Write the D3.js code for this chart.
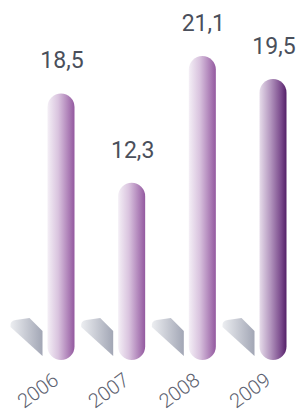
<!DOCTYPE html>
<html>
<head>
<meta charset="utf-8">
<script src="https://cdn.jsdelivr.net/npm/d3@7"></script>
<style>
html,body{margin:0;padding:0;background:#fff;}
svg{display:block;}
</style>
</head>
<body>
<svg id="chart" width="296" height="414"></svg>
<script>
const years = ["2006", "2007", "2008", "2009"];
const values = [18.5, 12.3, 21.1, 19.5];

const svg = d3.select("#chart");
const fmt = d3.formatLocale({decimal: ",", thousands: ".", grouping: [3], currency: ["", ""]}).format(".1f");

const x = d3.scalePoint().domain(years).range([61, 273]);
const y = d3.scaleLinear().domain([0, 21.1]).range([360, 56]);
const barW = 27;

const defs = svg.append("defs");
const gradSpecs = [
  ["#f4eff6", "#d9c3de", "#ab7cb5", "#93599f"],
  ["#f4eff6", "#d9c3de", "#ab7cb5", "#93599f"],
  ["#f4eff6", "#d9c3de", "#ab7cb5", "#93599f"],
  ["#e6dcea", "#b497bf", "#7a4a8c", "#542068"]
];
gradSpecs.forEach((c, i) => {
  const g = defs.append("linearGradient").attr("id", "bar" + i)
    .attr("x1", "0%").attr("x2", "100%").attr("y1", "0%").attr("y2", "0%");
  g.append("stop").attr("offset", "0%").attr("stop-color", c[0]);
  g.append("stop").attr("offset", "40%").attr("stop-color", c[1]);
  g.append("stop").attr("offset", "80%").attr("stop-color", c[2]);
  g.append("stop").attr("offset", "100%").attr("stop-color", c[3]);
});
const sg = defs.append("linearGradient").attr("id", "shadow")
  .attr("x1", "0%").attr("x2", "100%").attr("y1", "0%").attr("y2", "0%");
sg.append("stop").attr("offset", "0%").attr("stop-color", "#eceef1");
sg.append("stop").attr("offset", "100%").attr("stop-color", "#a2a6b5");

const bars = svg.append("g").selectAll("g").data(years).join("g");

// floor shadows
bars.append("path")
  .attr("fill", "url(#shadow)")
  .attr("d", d => {
    const bx = x(d) - barW / 2, by = y(0);
    return `M${bx-37},${by-33} Q${bx-38},${by-39} ${bx-32},${by-40} L${bx-18},${by-42} L${bx-5},${by-29} L${bx-5},${by-4} Z`;
  });

// bars
bars.append("rect")
  .attr("x", d => x(d) - barW / 2)
  .attr("width", barW)
  .attr("y", (d, i) => y(values[i]))
  .attr("height", (d, i) => y(0) - y(values[i]))
  .attr("rx", barW / 2)
  .attr("fill", (d, i) => `url(#bar${i})`);

// value labels
bars.append("text")
  .attr("x", d => x(d) + 1)
  .attr("y", (d, i) => y(values[i]) - 25)
  .attr("text-anchor", "middle")
  .attr("font-family", "Roboto, 'Liberation Sans', sans-serif")
  .attr("font-size", 23)
  .attr("fill", "#4a4f5b")
  .text((d, i) => fmt(values[i]));

// year labels
bars.append("text")
  .attr("transform", d => `translate(${x(d) - 19},${y(0) + 36}) rotate(-36)`)
  .attr("text-anchor", "middle")
  .attr("font-family", "Roboto, 'Liberation Sans', sans-serif")
  .attr("font-weight", 300)
  .attr("font-size", 20)
  .attr("fill", "#5d6270")
  .text(d => d);
</script>
</body>
</html>
